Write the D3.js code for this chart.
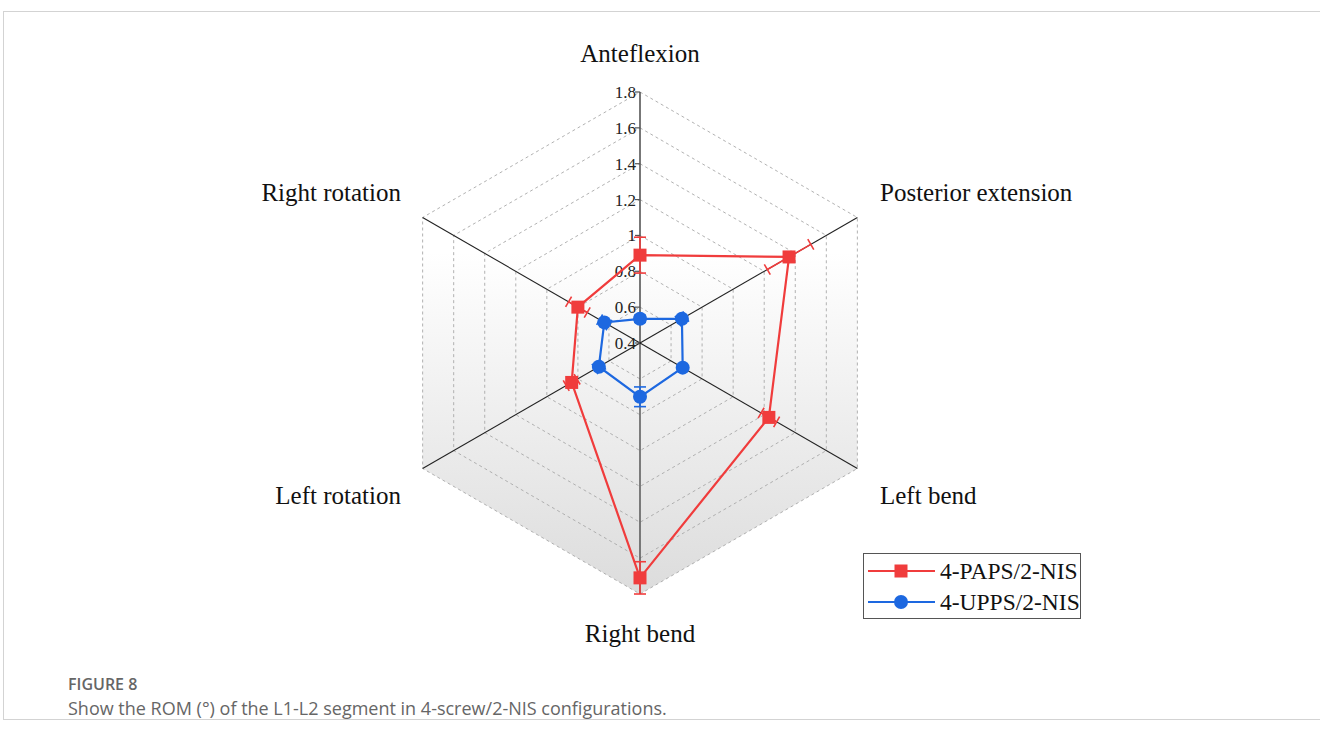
<!DOCTYPE html>
<html>
<head>
<meta charset="utf-8">
<script src="https://cdn.jsdelivr.net/npm/d3@7"></script>
<style>
  body { margin: 0; background: #fff; }
  svg { display: block; }
</style>
</head>
<body>
<div id="chart"></div>
<script>
// axes clockwise from top
var axesNames = ["Anteflexion", "Posterior extension", "Left bend", "Right bend", "Left rotation", "Right rotation"];
var tickValues = [0.4, 0.6, 0.8, 1, 1.2, 1.4, 1.6, 1.8];
var seriesNames = ["4-PAPS/2-NIS", "4-UPPS/2-NIS"];
var papsValues = [0.89, 1.36, 1.23, 1.71, 0.84, 0.80];
var papsErrors = [0.10, 0.14, 0.05, 0.09, 0.035, 0.06];
var uppsValues = [0.535, 0.67, 0.675, 0.70, 0.665, 0.63];
var uppsErrors = [0.02, 0.025, 0.01, 0.055, 0.025, 0.03];

var width = 1320, height = 738;
var cx = 640, cy = 343, R = 251;

var svg = d3.select("#chart").append("svg")
    .attr("width", width)
    .attr("height", height);

// page frame
svg.append("rect")
    .attr("x", 3.5).attr("y", 11.5)
    .attr("width", width).attr("height", 708)
    .attr("fill", "none")
    .attr("stroke", "#d3d3d3");

var r = d3.scaleLinear().domain([0.4, 1.8]).range([0, R]);
var angle = d3.scalePoint().domain(d3.range(6)).range([0, 300]);

function pt(i, v) {
    var a = angle(i) * Math.PI / 180;
    return [cx + r(v) * Math.sin(a), cy - r(v) * Math.cos(a)];
}

var defs = svg.append("defs");
var grad = defs.append("linearGradient")
    .attr("id", "bg")
    .attr("gradientUnits", "userSpaceOnUse")
    .attr("x1", 0).attr("y1", cy - R)
    .attr("x2", 0).attr("y2", cy + R);
grad.append("stop").attr("offset", 0).attr("stop-color", "#ffffff");
grad.append("stop").attr("offset", 0.32).attr("stop-color", "#ffffff");
grad.append("stop").attr("offset", 1).attr("stop-color", "#dcdcdc");

var ringLine = d3.line();

// background hexagon
svg.append("path")
    .attr("d", ringLine(d3.range(6).map(function (i) { return pt(i, 1.8); })) + "Z")
    .attr("fill", "url(#bg)");

// dashed grid rings
svg.selectAll(".ring")
    .data(tickValues.slice(1))
    .enter().append("path")
    .attr("class", "ring")
    .attr("d", function (t) {
        return ringLine(d3.range(6).map(function (i) { return pt(i, t); })) + "Z";
    })
    .attr("fill", "none")
    .attr("stroke", "#a8a8a8")
    .attr("stroke-width", 0.9)
    .attr("stroke-dasharray", "3,3");

// axes
svg.selectAll(".axis")
    .data(d3.range(6))
    .enter().append("line")
    .attr("class", "axis")
    .attr("x1", cx).attr("y1", cy)
    .attr("x2", function (i) { return pt(i, 1.8)[0]; })
    .attr("y2", function (i) { return pt(i, 1.8)[1]; })
    .attr("stroke", function (i) { return i == 0 ? "#555" : "#222"; })
    .attr("stroke-width", function (i) { return i == 0 ? 1.6 : 1.1; });

// radial tick marks + labels on top axis
svg.selectAll(".tick")
    .data(tickValues)
    .enter().append("line")
    .attr("x1", cx - 5).attr("x2", cx)
    .attr("y1", function (t) { return cy - r(t); })
    .attr("y2", function (t) { return cy - r(t); })
    .attr("stroke", "#555")
    .attr("stroke-width", 1.2);

svg.selectAll(".tickLabel")
    .data(tickValues)
    .enter().append("text")
    .attr("x", cx - 4)
    .attr("y", function (t) { return cy - r(t) + 6; })
    .attr("text-anchor", "end")
    .attr("font-family", "Liberation Serif, Times New Roman, serif")
    .attr("font-size", "17px")
    .attr("fill", "#222")
    .text(function (t) { return d3.format("")(t); });

// axis names
var labelPos = [
    { x: cx, y: 62, anchor: "middle" },
    { x: 880, y: 201, anchor: "start" },
    { x: 880, y: 504, anchor: "start" },
    { x: cx, y: 642, anchor: "middle" },
    { x: 401, y: 504, anchor: "end" },
    { x: 401, y: 201, anchor: "end" }
];
svg.selectAll(".axisName")
    .data(axesNames)
    .enter().append("text")
    .attr("x", function (d, i) { return labelPos[i].x; })
    .attr("y", function (d, i) { return labelPos[i].y; })
    .attr("text-anchor", function (d, i) { return labelPos[i].anchor; })
    .attr("font-family", "Liberation Serif, Times New Roman, serif")
    .attr("font-size", "25px")
    .attr("fill", "#111")
    .text(function (d) { return d; });

var series = [
    { name: seriesNames[0], values: papsValues, errors: papsErrors, color: "#f03c3c", shape: "square" },
    { name: seriesNames[1], values: uppsValues, errors: uppsErrors, color: "#1d68e0", shape: "circle" }
];

function drawMarker(g, shape, color, x, y) {
    if (shape == "square") {
        g.append("rect")
            .attr("x", x - 6.5).attr("y", y - 6.5)
            .attr("width", 13).attr("height", 13)
            .attr("fill", color);
    } else {
        g.append("circle")
            .attr("cx", x).attr("cy", y).attr("r", 7)
            .attr("fill", color);
    }
}

series.forEach(function (s) {
    var g = svg.append("g");
    var pts = s.values.map(function (v, i) { return pt(i, v); });

    g.append("path")
        .attr("d", ringLine(pts) + "Z")
        .attr("fill", "none")
        .attr("stroke", s.color)
        .attr("stroke-width", 2.2);

    // error bars
    s.values.forEach(function (v, i) {
        var lo = pt(i, v - s.errors[i]), hi = pt(i, v + s.errors[i]);
        var a = angle(i) * Math.PI / 180;
        var px = Math.cos(a) * 6, py = Math.sin(a) * 6;
        g.append("line")
            .attr("x1", lo[0]).attr("y1", lo[1])
            .attr("x2", hi[0]).attr("y2", hi[1])
            .attr("stroke", s.color).attr("stroke-width", 1.6);
        [lo, hi].forEach(function (p) {
            g.append("line")
                .attr("x1", p[0] - px).attr("y1", p[1] - py)
                .attr("x2", p[0] + px).attr("y2", p[1] + py)
                .attr("stroke", s.color).attr("stroke-width", 1.6);
        });
    });

    pts.forEach(function (p) {
        drawMarker(g, s.shape, s.color, p[0], p[1]);
    });
});

// legend
var legend = svg.append("g").attr("transform", "translate(863,553)");
legend.append("rect")
    .attr("x", 0.5).attr("y", 0.5)
    .attr("width", 217).attr("height", 65)
    .attr("fill", "#fff")
    .attr("stroke", "#555");
series.forEach(function (s, k) {
    var y = 18 + k * 31;
    legend.append("line")
        .attr("x1", 5).attr("x2", 72)
        .attr("y1", y).attr("y2", y)
        .attr("stroke", s.color).attr("stroke-width", 2.2);
    drawMarker(legend, s.shape, s.color, 38, y);
    legend.append("text")
        .attr("x", 77).attr("y", y + 8)
        .attr("font-family", "Liberation Serif, Times New Roman, serif")
        .attr("font-size", "23.5px")
        .attr("fill", "#111")
        .text(s.name);
});

// caption
svg.append("text")
    .attr("x", 68).attr("y", 690)
    .attr("font-family", "Open Sans, sans-serif")
    .attr("font-size", "16px")
    .attr("font-weight", "600")
    .attr("fill", "#666")
    .text("FIGURE 8");
svg.append("text")
    .attr("x", 68).attr("y", 715)
    .attr("font-family", "Open Sans, sans-serif")
    .attr("font-size", "18px")
    .attr("fill", "#666")
    .text("Show the ROM (°) of the L1-L2 segment in 4-screw/2-NIS configurations.");
</script>
</body>
</html>
